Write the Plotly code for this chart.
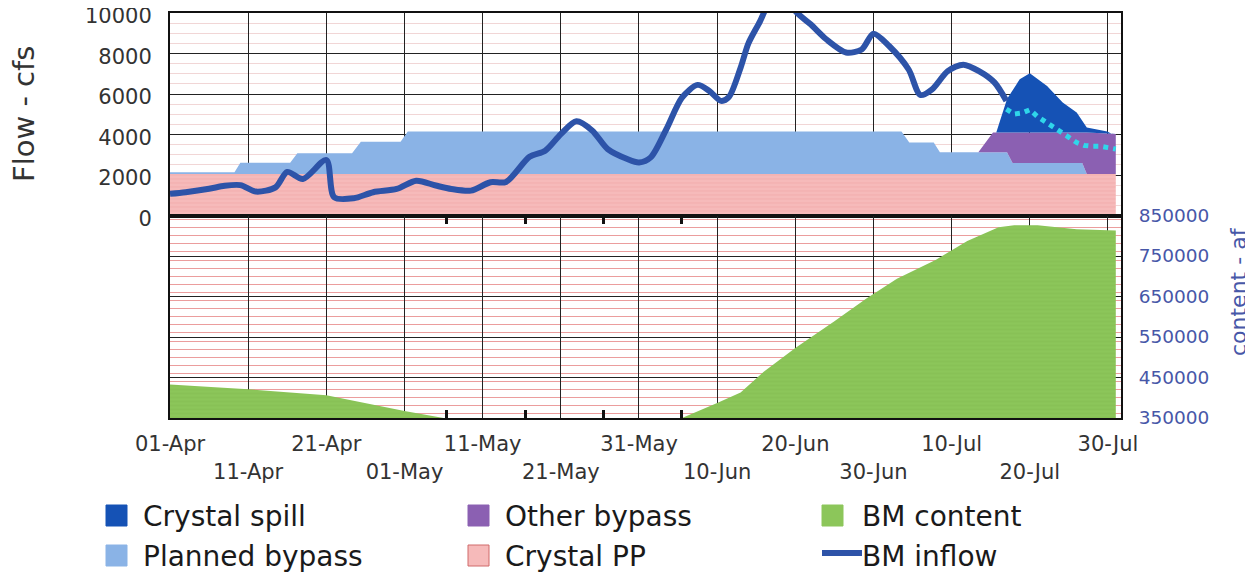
import plotly.graph_objects as go

# ---------------- data ----------------
INFLOW_DATES = [
    "2006-04-01", "2006-04-03", "2006-04-06", "2006-04-08", "2006-04-10", "2006-04-12",
    "2006-04-14 12:00", "2006-04-16", "2006-04-18", "2006-04-21", "2006-04-22",
    "2006-04-24 12:00", "2006-04-27", "2006-04-30", "2006-05-02 12:00", "2006-05-05",
    "2006-05-07", "2006-05-09 12:00", "2006-05-12", "2006-05-14", "2006-05-17",
    "2006-05-19", "2006-05-21", "2006-05-23", "2006-05-25", "2006-05-27",
    "2006-05-29 12:00", "2006-05-31", "2006-06-01 12:00", "2006-06-03 12:00",
    "2006-06-05 12:00", "2006-06-07 12:00", "2006-06-09", "2006-06-10 12:00",
    "2006-06-11 12:00", "2006-06-13", "2006-06-14", "2006-06-15 12:00", "2006-06-17",
    "2006-06-18 12:00", "2006-06-20", "2006-06-22", "2006-06-24", "2006-06-26 12:00",
    "2006-06-28 12:00", "2006-06-30", "2006-07-02", "2006-07-04 12:00", "2006-07-06",
    "2006-07-07 12:00", "2006-07-09 12:00", "2006-07-11 12:00", "2006-07-13 12:00",
    "2006-07-15 12:00", "2006-07-17",
]
INFLOW_CFS = [
    1070, 1150, 1320, 1470, 1500, 1180,
    1390, 2150, 1800, 2740, 900,
    850, 1150, 1310, 1720, 1480,
    1310, 1230, 1640, 1660, 2900,
    3200, 4020, 4650, 4200, 3280,
    2790, 2620, 2870, 4260,
    5820, 6450, 6150, 5660,
    5850, 7300, 8500, 9600, 10800,
    11200, 10100, 9430, 8690, 8050,
    8200, 8980, 8370, 7210, 5950,
    6230, 7130, 7450, 7130,
    6560, 5660,
]

DOTTED_DATES = [
    "2006-07-17", "2006-07-18", "2006-07-19", "2006-07-20", "2006-07-21",
    "2006-07-22", "2006-07-23", "2006-07-24", "2006-07-25", "2006-07-26",
    "2006-07-27", "2006-07-28", "2006-07-29", "2006-07-30", "2006-07-31",
]
DOTTED_CFS = [5250, 5010, 5060, 5220, 4880, 4640, 4400, 4150, 3860, 3600,
              3460, 3420, 3420, 3350, 3280]

PP_DATES = ["2006-04-01", "2006-07-31"]
PP_CFS = [2050, 2050]

PLANNED_DATES = [
    "2006-04-01", "2006-04-09 06:00", "2006-04-10", "2006-04-16 09:00",
    "2006-04-17 07:00", "2006-04-24 07:00", "2006-04-25 10:00", "2006-04-30 12:00",
    "2006-05-01 10:00", "2006-07-03 14:00", "2006-07-04 14:00", "2006-07-07 17:00",
    "2006-07-08 12:00", "2006-07-17 02:00", "2006-07-17 19:00", "2006-07-26 17:00",
    "2006-07-27 07:00", "2006-07-31",
]
PLANNED_CFS = [80, 80, 550, 550, 1030, 1030, 1590, 1590, 2100, 2100, 1560, 1560,
               1070, 1070, 540, 540, 0, 0]

OTHER_DATES = ["2006-04-01", "2006-07-13 10:00", "2006-07-15 07:00", "2006-07-17 02:00",
               "2006-07-17 19:00", "2006-07-26 17:00", "2006-07-27 07:00", "2006-07-31"]
OTHER_CFS = [0, 0, 980, 980, 1510, 1510, 2050, 1970]

SPILL_DATES = ["2006-04-01", "2006-07-15 17:00", "2006-07-17 02:00", "2006-07-18 17:00",
               "2006-07-20", "2006-07-22 05:00", "2006-07-24 05:00", "2006-07-26",
               "2006-07-27 07:00", "2006-07-29 22:00", "2006-07-30 12:00", "2006-07-31"]
SPILL_CFS = [0, 0, 1650, 2630, 2930, 2300, 1480, 990, 250, 100, 0, 0]

CONTENT_DATES = ["2006-04-01", "2006-04-11", "2006-04-21", "2006-04-26", "2006-05-01",
                 "2006-05-06", "2006-06-05 12:00", "2006-06-10", "2006-06-13",
                 "2006-06-16", "2006-06-20", "2006-06-25", "2006-06-29", "2006-07-03",
                 "2006-07-08", "2006-07-12", "2006-07-16", "2006-07-18", "2006-07-21",
                 "2006-07-26", "2006-07-31"]
CONTENT_AF = [433000, 421000, 406000, 387000, 367000,
              350000, 350000, 387000, 413000,
              465000, 523000, 589000, 644000, 694000,
              741000, 787000, 821000, 826000, 826000,
              816000, 813000]

X_TICK_DATES = ["2006-04-01", "2006-04-11", "2006-04-21", "2006-05-01", "2006-05-11",
                "2006-05-21", "2006-05-31", "2006-06-10", "2006-06-20", "2006-06-30",
                "2006-07-10", "2006-07-20", "2006-07-30"]
X_TICK_LABELS = ["01-Apr", "11-Apr", "21-Apr", "01-May", "11-May", "21-May", "31-May",
                 "10-Jun", "20-Jun", "30-Jun", "10-Jul", "20-Jul", "30-Jul"]
X_MARK_DATES = ["2006-05-06 10:00", "2006-05-16 10:00", "2006-05-26 10:00", "2006-06-05 10:00"]

FLOW_TICKS = [0, 2000, 4000, 6000, 8000, 10000]
FLOW_LABELS = ["0", "2000", "4000", "6000", "8000", "10000"]
CONTENT_TICKS = [350000, 450000, 550000, 650000, 750000, 850000]
CONTENT_LABELS = ["350000", "450000", "550000", "650000", "750000", "850000"]

# ---------------- styling ----------------
FONT = "DejaVu Sans"
C_SPILL = "#1552b5"
C_PLANNED = "#8ab3e6"
C_OTHER = "#8b60b2"
C_PP = "#f6baba"
C_CONTENT = "#8cc65a"
C_INFLOW = "#2d53a8"
C_DOTS = "#2fd6ea"
C_RIGHT = "#4757a8"

# the page places the figure 8 px from the window's top-left corner
OFF = 8
W, H = 1253 - OFF, 575 - OFF
L, R, T, B = 170 - OFF, 1121 - OFF, 13 - OFF, 418 - OFF


def px_x(p):  # window pixel -> paper fraction
    return (p - OFF - L) / (R - L)


def px_y(p):
    return (B - (p - OFF)) / (B - T)


fig = go.Figure()

# BM content (lower panel, right axis)
fig.add_trace(go.Scatter(
    x=CONTENT_DATES, y=CONTENT_AF, yaxis="y2", mode="lines",
    line=dict(width=0, color=C_CONTENT), fill="tozeroy", fillcolor=C_CONTENT,
    fillpattern=dict(shape="-", bgcolor=C_CONTENT, fgcolor="#7db54b", size=4, solidity=0.3),
    name="BM content", showlegend=False, hoverinfo="skip"))

# stacked flows (upper panel)
stack = [
    ("Crystal PP", PP_DATES, PP_CFS, C_PP, dict(shape="-", bgcolor=C_PP, fgcolor="#efa3a3", size=4, solidity=0.3)),
    ("Planned bypass", PLANNED_DATES, PLANNED_CFS, C_PLANNED, None),
    ("Other bypass", OTHER_DATES, OTHER_CFS, C_OTHER, None),
    ("Crystal spill", SPILL_DATES, SPILL_CFS, C_SPILL, None),
]
for name, xs, ys, col, patt in stack:
    kw = dict(fillpattern=patt) if patt else {}
    fig.add_trace(go.Scatter(
        x=xs, y=ys, yaxis="y", mode="lines", stackgroup="flow",
        stackgaps="interpolate", line=dict(width=0, color=col),
        fillcolor=col, name=name, showlegend=False, hoverinfo="skip", **kw))

fig.add_trace(go.Scatter(
    x=INFLOW_DATES, y=INFLOW_CFS, yaxis="y", mode="lines",
    line=dict(color=C_INFLOW, width=6, shape="spline", smoothing=0.8),
    name="BM inflow", showlegend=False))

fig.add_trace(go.Scatter(
    x=DOTTED_DATES, y=DOTTED_CFS, yaxis="y", mode="lines",
    line=dict(color=C_DOTS, width=5, dash="5px,5px"),
    showlegend=False, hoverinfo="skip"))

# ---------------- layout ----------------
ticktext = [t if i % 2 == 0 else "<br>" + t for i, t in enumerate(X_TICK_LABELS)]

fig.update_layout(
    width=W, height=H,
    margin=dict(l=L, r=W - R, t=T, b=H - B, pad=0, autoexpand=False),
    paper_bgcolor="white", plot_bgcolor="white",
    font=dict(family=FONT, color="#333333"),
    showlegend=False,
    xaxis=dict(
        type="date", range=["2006-04-01", "2006-07-31 16:00"], anchor="y2",
        tickvals=X_TICK_DATES, ticktext=ticktext, ticks="", automargin=False,
        tickangle=0, ticklabeloverflow="allow",
        tickfont=dict(family=FONT, size=21, color="#333333"),
        ticklabelstandoff=6,
        showgrid=True, gridcolor="#222222", gridwidth=1,
        showline=True, linecolor="#111111", linewidth=2, mirror="all",
        zeroline=False,
        minor=dict(tickvals=X_MARK_DATES, ticks="inside", ticklen=8, tickwidth=3,
                   tickcolor="#111111", showgrid=False),
    ),
    yaxis=dict(
        domain=[0.5, 1], anchor="x", range=[0, 10000], tickvals=FLOW_TICKS,
        ticktext=FLOW_LABELS, automargin=False, ticklabeloverflow="allow",
        tickfont=dict(family=FONT, size=21, color="#333333"), ticks="",
        ticklabelstandoff=12, ticklabelshift=3,
        showgrid=True, gridcolor="#222222", gridwidth=1, zeroline=False,
        showline=True, linecolor="#111111", linewidth=2, mirror=True,
        minor=dict(dtick=500, showgrid=True, gridcolor="#f1d6d6", gridwidth=1),
    ),
    yaxis2=dict(
        domain=[0, 0.5], anchor="x", side="right", range=[350000, 850000],
        tickvals=CONTENT_TICKS, ticktext=CONTENT_LABELS, automargin=False,
        ticklabeloverflow="allow",
        tickfont=dict(family=FONT, size=18.5, color=C_RIGHT), ticks="",
        ticklabelstandoff=12,
        showgrid=True, gridcolor="#222222", gridwidth=1, zeroline=False,
        showline=True, linecolor="#111111", linewidth=2, mirror=True,
        minor=dict(dtick=20000, showgrid=True, gridcolor="#eb9d9d", gridwidth=1),
    ),
)

# axis titles
fig.add_annotation(text="Flow - cfs", textangle=-90, xref="paper", yref="paper",
                   x=px_x(24), y=px_y(114), showarrow=False,
                   font=dict(family=FONT, size=29, color="#333333"),
                   xanchor="center", yanchor="middle")
fig.add_annotation(text="content - af", textangle=-90, xref="paper", yref="paper",
                   x=px_x(1238), y=px_y(292), showarrow=False,
                   font=dict(family=FONT, size=22, color=C_RIGHT),
                   xanchor="center", yanchor="middle")

# legend (drawn manually: 3 columns x 2 rows)
LEGEND = [
    ("Crystal spill", C_SPILL, "box", 0, 0),
    ("Other bypass", C_OTHER, "box", 1, 0),
    ("BM content", C_CONTENT, "box", 2, 0),
    ("Planned bypass", C_PLANNED, "box", 0, 1),
    ("Crystal PP", C_PP, "box", 1, 1),
    ("BM inflow", C_INFLOW, "line", 2, 1),
]
col_sym = [106, 468, 822]
col_txt = [141, 503, 860]
row_y = [516, 556]
for name, col, kind, c, r in LEGEND:
    yc = row_y[r]
    if kind == "box":
        border = "#d06a6a" if name == "Crystal PP" else col
        fig.add_shape(type="rect", xref="paper", yref="paper",
                      x0=px_x(col_sym[c]), x1=px_x(col_sym[c] + 21),
                      y0=px_y(yc - 11), y1=px_y(yc + 10),
                      fillcolor=col, line=dict(color=border, width=1))
    else:
        fig.add_shape(type="line", xref="paper", yref="paper",
                      x0=px_x(col_sym[c]), x1=px_x(col_txt[c] + 2),
                      y0=px_y(yc - 3), y1=px_y(yc - 3),
                      line=dict(color=col, width=6))
    fig.add_annotation(text=name, xref="paper", yref="paper",
                       x=px_x(col_txt[c]), y=px_y(yc), showarrow=False,
                       xanchor="left", yanchor="middle",
                       font=dict(family=FONT, size=28, color="#1a1a1a"))

fig.write_html("out.html")
